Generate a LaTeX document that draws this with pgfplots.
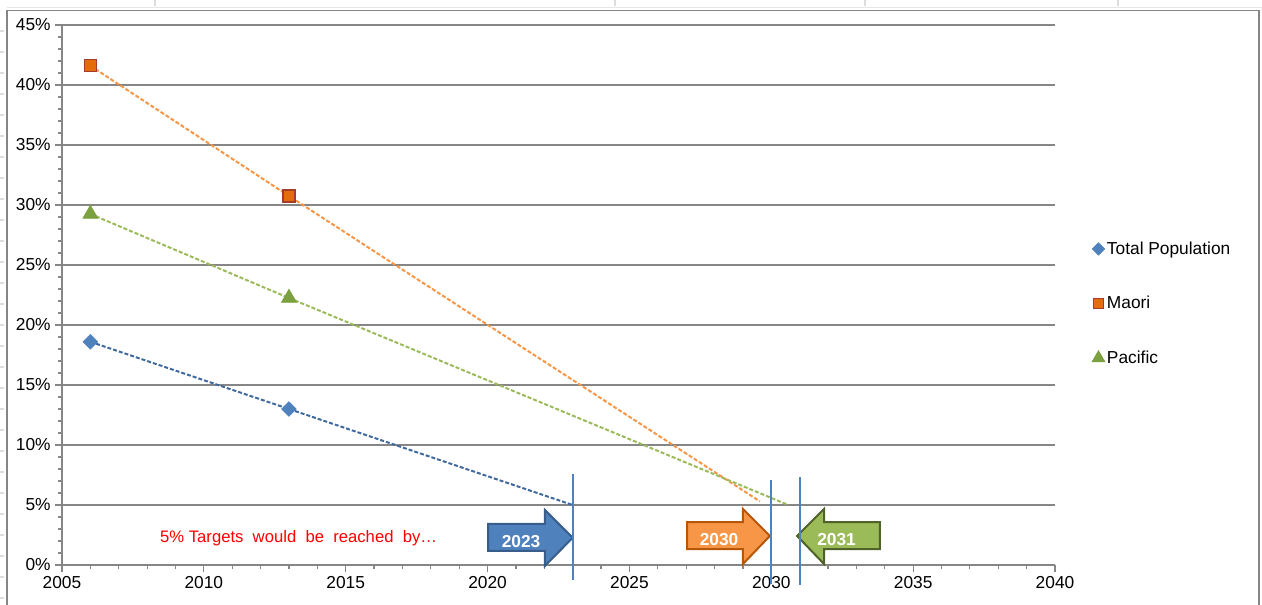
\documentclass[border=0pt]{standalone}
\usepackage{fontspec}
\setmainfont{Liberation Sans}
\usepackage{pgfplots}
\pgfplotsset{compat=1.18}
\definecolor{axgray}{HTML}{868686}
\definecolor{lightg}{HTML}{DCDCDC}
\definecolor{bluel}{HTML}{41699E}
\definecolor{bluem}{HTML}{4F81BD}
\definecolor{blued}{HTML}{385D8A}
\definecolor{orl}{HTML}{F79646}
\definecolor{orm}{HTML}{E46C0A}
\definecolor{ormd}{HTML}{A33B2E}
\definecolor{ord}{HTML}{B65708}
\definecolor{grl}{HTML}{9BBB59}
\definecolor{grm}{HTML}{7BA03F}
\definecolor{grd}{HTML}{4F6228}
\begin{document}
\begin{tikzpicture}
\useasboundingbox (-46.5pt,-30pt) rectangle (900pt,423.75pt);
\clip (-46.5pt,-30pt) rectangle (900pt,423.75pt);
% sheet background details
\begin{scope}[x=0.75pt,y=-0.75pt,shift={(-46.5pt,423.75pt)}]
  \foreach \xx in {155,615,865,1118} {\draw[lightg,line width=0.8pt] (\xx,0) -- (\xx,6);}
  \foreach \yy in {31,52,...,600} {\draw[lightg,line width=0.8pt] (0,\yy) -- (4,\yy);}
  \draw[lightg!70,line width=0.6pt] (7,7) -- (1262,7);
  \draw[axgray,line width=1.1pt] (7,640) -- (7,10.5) -- (1259,10.5) -- (1259,640);
\end{scope}
\begin{axis}[
  at={(0,0)}, anchor=south west,
  scale only axis, width=744.75pt, height=405pt,
  xmin=2005, xmax=2040, ymin=0, ymax=45,
  xtick={2005,2010,...,2040}, ytick={0,5,...,45},
  minor x tick num=4, minor y tick num=4,
  axis lines*=left,
  axis line style={draw=axgray, line width=1.1pt, -},
  tick align=outside, major tick length=5pt, minor tick length=3pt,
  every tick/.style={draw=axgray, line width=0.9pt},
  ymajorgrids, major grid style={draw=axgray, line width=1.1pt},
  /pgf/number format/1000 sep={},
  /pgf/number format/assume math mode=true,
  yticklabel={\pgfmathprintnumber{\tick}\%},
  ticklabel style={font=\fontsize{13}{15}\selectfont, text=black},
  clip=false,
  legend style={draw=none, fill=none, at={(1.037,0.603)}, anchor=north west,
    font=\fontsize{13}{15}\selectfont, row sep=27pt, inner sep=0pt,
    nodes={inner sep=1.5pt}},
  legend cell align=left,
  legend image code/.code={\draw[#1, /tikz/every mark/.append style={scale=0.85}] plot coordinates {(0.12cm,0cm)};},
]
% trend lines (dashed)
\addplot[bluel, line width=1.5pt, dash pattern=on 3pt off 1.5pt, forget plot]
  coordinates {(2006,18.6) (2013,13.0) (2023,5.0)};
\addplot[orl, line width=1.5pt, dash pattern=on 3pt off 1.5pt, forget plot]
  coordinates {(2006,41.6) (2013,30.75) (2029.6,5.3)};
\addplot[grl, line width=1.5pt, dash pattern=on 3pt off 1.5pt, forget plot]
  coordinates {(2006,29.25) (2013,22.25) (2030.6,5.0)};
% data markers
\addplot[only marks, mark=square*, mark size=3.9pt, mark options={rotate=45, fill=bluem, draw=bluem}]
  coordinates {(2006,18.6) (2013,13.0)};
\addlegendentry{Total Population}
\addplot[only marks, mark=square*, mark size=4.5pt, mark options={fill=orm, draw=ormd, line width=0.8pt}]
  coordinates {(2006,41.6) (2013,30.75)};
\addlegendentry{Maori}
\addplot[only marks, mark=triangle*, mark size=6.6pt, mark options={fill=grm, draw=grm}]
  coordinates {(2006,29.25) (2013,22.25)};
\addlegendentry{Pacific}
% annotation text
\node[text=red, font=\fontsize{12.5}{14}\selectfont] at (axis cs:2013.34,2.25) {5\%\ Targets\ \ would\ \ be\ \ reached\ \ by\ldots};
% arrows
\draw[fill=bluem, draw=blued, line width=1.5pt, line join=miter]
  (axis cs:2020.02,3.42) -- (axis cs:2022.02,3.42) -- (axis cs:2022.02,4.58) -- (axis cs:2023,2.27)
  -- (axis cs:2022.02,-0.08) -- (axis cs:2022.02,1.17) -- (axis cs:2020.02,1.17) -- cycle;
\node[text=white, font=\bfseries\fontsize{13}{15}\selectfont] at (axis cs:2021.18,1.95) {2023};
\draw[fill=orl, draw=ord, line width=1.5pt, line join=miter]
  (axis cs:2027.03,3.58) -- (axis cs:2029.0,3.58) -- (axis cs:2029.0,4.67) -- (axis cs:2029.95,2.42)
  -- (axis cs:2029.0,0.08) -- (axis cs:2029.0,1.33) -- (axis cs:2027.03,1.33) -- cycle;
\node[text=white, font=\bfseries\fontsize{13}{15}\selectfont] at (axis cs:2028.16,2.1) {2030};
\draw[fill=grl, draw=grd, line width=1.5pt, line join=miter]
  (axis cs:2033.83,3.58) -- (axis cs:2031.86,3.58) -- (axis cs:2031.86,4.67) -- (axis cs:2030.91,2.42)
  -- (axis cs:2031.86,0.08) -- (axis cs:2031.86,1.33) -- (axis cs:2033.83,1.33) -- cycle;
\node[text=white, font=\bfseries\fontsize{13}{15}\selectfont] at (axis cs:2032.3,2.1) {2031};
% year markers
\draw[bluem, line width=1.3pt] (axis cs:2023,7.58) -- (axis cs:2023,-1.25);
\draw[bluem, line width=1.3pt] (axis cs:2030,7.08) -- (axis cs:2030,-1.58);
\draw[bluem, line width=1.3pt] (axis cs:2031,7.33) -- (axis cs:2031,-1.67);
\end{axis}
\end{tikzpicture}
\end{document}
